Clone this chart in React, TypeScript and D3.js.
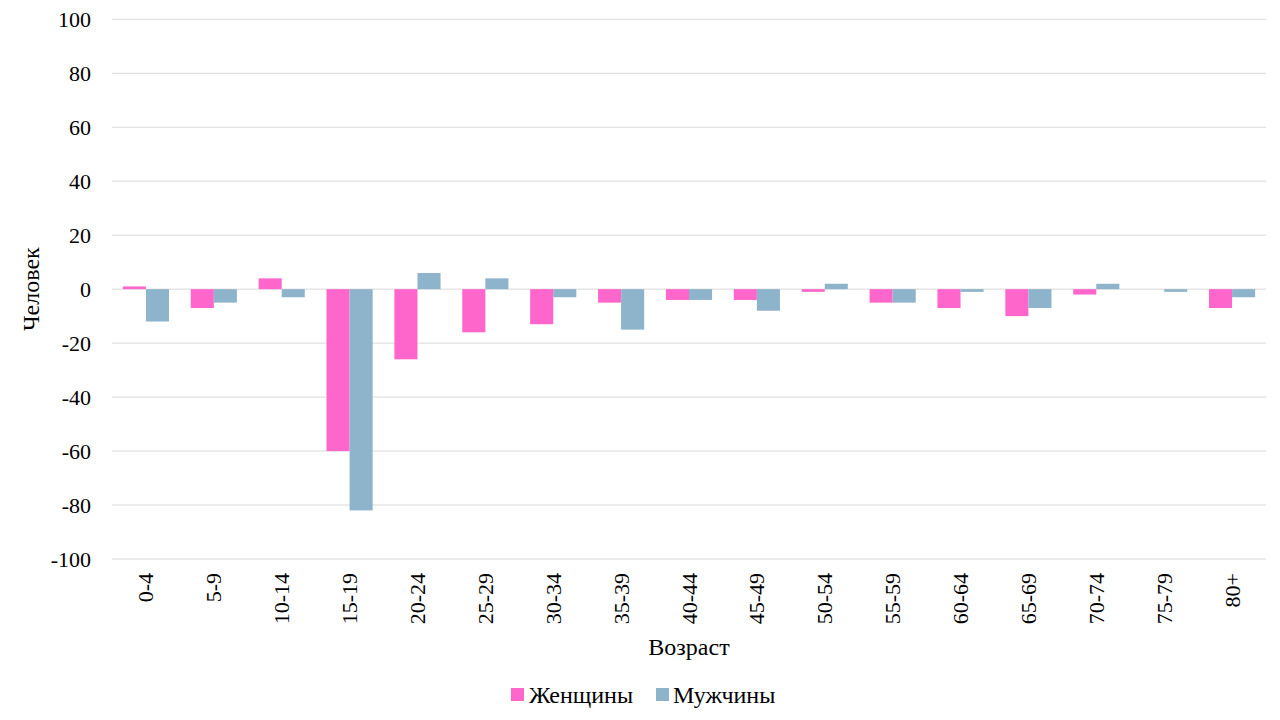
import * as d3 from 'd3';

const ageGroups = ['0-4', '5-9', '10-14', '15-19', '20-24', '25-29', '30-34', '35-39', '40-44', '45-49', '50-54', '55-59', '60-64', '65-69', '70-74', '75-79', '80+'];
const women = [1, -7, 4, -60, -26, -16, -13, -5, -4, -4, -1, -5, -7, -10, -2, 0, -7];
const men = [-12, -5, -3, -82, 6, 4, -3, -15, -4, -8, 2, -5, -1, -7, 2, -1, -3];
const yTicks = [100, 80, 60, 40, 20, 0, -20, -40, -60, -80, -100];

const seriesNames = ['Женщины', 'Мужчины'];
const colors = ['#FF66CC', '#8EB4CB'];

const W = 1280;
const H = 720;
const margin = { top: 19.3, right: 14, bottom: 161, left: 112 };
const textStyle = { fontFamily: "'Liberation Serif', 'Times New Roman', serif" };

export default function App() {
  const innerW = W - margin.left - margin.right;
  const innerH = H - margin.top - margin.bottom;

  const x = d3.scaleBand<string>().domain(ageGroups).range([0, innerW]).padding(0);
  const y = d3.scaleLinear().domain([-100, 100]).range([innerH, 0]);

  const groupW = x.bandwidth() * 0.68;
  const inner = d3.scaleBand<number>().domain([0, 1]).range([0, groupW]).padding(0);
  const groupOffset = (x.bandwidth() - groupW) / 2;

  const seriesData = [women, men];

  return (
    <div style={{ position: 'absolute', left: 0, top: 0 }}>
      <svg width={W} height={H} style={{ display: 'block', background: '#fff', ...textStyle }}>
        <g transform={`translate(${margin.left},${margin.top})`}>
          {yTicks.map(t => (
            <g key={t}>
              <line x1={0} x2={innerW} y1={y(t)} y2={y(t)} stroke="#d9d9d9" strokeWidth={1} />
              <text x={-21} y={y(t)} dy="0.35em" textAnchor="end" style={textStyle} fontSize={22} fill="#000">
                {t}
              </text>
            </g>
          ))}
          {seriesData.map((vals, si) =>
            vals.map((v, i) => {
              const x0 = (x(ageGroups[i]) as number) + groupOffset + (inner(si) as number);
              const y0 = y(Math.max(0, v));
              const h = Math.abs(y(v) - y(0));
              return <rect key={`${si}-${i}`} x={x0} y={y0} width={inner.bandwidth()} height={h} fill={colors[si]} />;
            })
          )}
          {ageGroups.map(g => (
            <text
              key={g}
              transform={`translate(${(x(g) as number) + x.bandwidth() / 2 + 7.5},${innerH + 14}) rotate(-90)`}
              textAnchor="end"
              style={textStyle}
              fontSize={22}
              fill="#000"
            >
              {g}
            </text>
          ))}
          <text x={innerW / 2} y={innerH + 96} textAnchor="middle" style={textStyle} fontSize={24} fill="#000">
            Возраст
          </text>
          <text
            transform={`translate(${-73},${innerH / 2}) rotate(-90)`}
            textAnchor="middle"
            style={textStyle}
            fontSize={24}
            fill="#000"
          >
            Человек
          </text>
        </g>
        <g transform="translate(511,688)">
          <rect x={0} y={0} width={13} height={13} fill={colors[0]} />
          <text x={18} y={15} style={textStyle} fontSize={24} fill="#000">{seriesNames[0]}</text>
          <rect x={145} y={0} width={13} height={13} fill={colors[1]} />
          <text x={162} y={15} style={textStyle} fontSize={24} fill="#000">{seriesNames[1]}</text>
        </g>
      </svg>
    </div>
  );
}
